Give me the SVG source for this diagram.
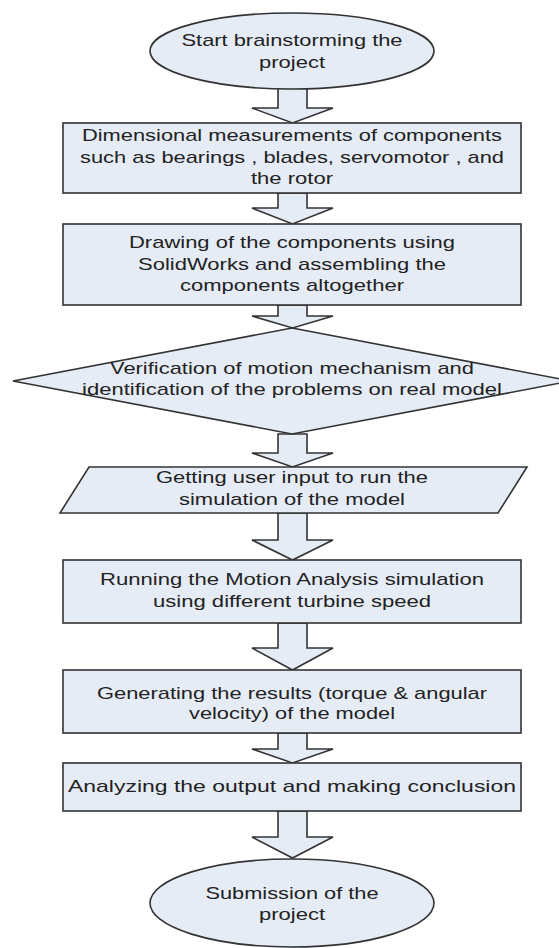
<svg xmlns="http://www.w3.org/2000/svg" width="559" height="948" viewBox="0 0 559 948">
<style>
.shape{fill:#E6ECF6;stroke:#333;stroke-width:1.6}
.arrow{fill:#E6ECF6;stroke:#333;stroke-width:1.6;stroke-linejoin:miter}
text{font-family:"Liberation Sans",Arial,sans-serif;font-size:17px;fill:#222;text-anchor:middle}
</style>
<rect width="559" height="948" fill="#fff"/>
<g id="connectors">
<path class="arrow" d="M278,88 L307,88 L307,108 L333,108 L292.5,123 L252,108 L278,108 Z"/>
<path class="arrow" d="M278,193 L307,193 L307,208 L333,208 L292.5,224 L252,208 L278,208 Z"/>
<path class="arrow" d="M278,305 L307,305 L307,316 L333,316 L292.5,328 L252,316 L278,316 Z"/>
<path class="arrow" d="M278,434 L307,434 L307,453 L333,453 L292.5,467 L252,453 L278,453 Z"/>
<path class="arrow" d="M278,513 L307,513 L307,540 L333,540 L292.5,560 L252,540 L278,540 Z"/>
<path class="arrow" d="M278,623 L307,623 L307,648 L333,648 L292.5,670 L252,648 L278,648 Z"/>
<path class="arrow" d="M278,733 L307,733 L307,749 L333,749 L292.5,763 L252,749 L278,749 Z"/>
<path class="arrow" d="M278,811 L307,811 L307,837 L333,837 L292.5,858 L252,837 L278,837 Z"/>
</g>
<g id="start">
<ellipse class="shape" cx="292" cy="51" rx="142" ry="38"/>
<text x="292" y="46" textLength="221" lengthAdjust="spacingAndGlyphs">Start brainstorming the</text>
<text x="292" y="68" textLength="66" lengthAdjust="spacingAndGlyphs">project</text>
</g>
<g id="measure">
<rect class="shape" x="63" y="123" width="458" height="70"/>
<text x="292" y="141" textLength="420" lengthAdjust="spacingAndGlyphs">Dimensional measurements of components</text>
<text x="292" y="163" textLength="424" lengthAdjust="spacingAndGlyphs">such as bearings , blades, servomotor , and</text>
<text x="292" y="184" textLength="82" lengthAdjust="spacingAndGlyphs">the rotor</text>
</g>
<g id="drawing">
<rect class="shape" x="63" y="224" width="458" height="81"/>
<text x="292" y="248" textLength="326" lengthAdjust="spacingAndGlyphs">Drawing of the components using</text>
<text x="292" y="270" textLength="308" lengthAdjust="spacingAndGlyphs">SolidWorks and assembling the</text>
<text x="292" y="291" textLength="224" lengthAdjust="spacingAndGlyphs">components altogether</text>
</g>
<g id="verify">
<polygon class="shape" points="292,328 571,381 292,434 13,381"/>
<text x="292" y="374" textLength="364" lengthAdjust="spacingAndGlyphs">Verification of motion mechanism and</text>
<text x="292" y="395" textLength="420" lengthAdjust="spacingAndGlyphs">identification of the problems on real model</text>
</g>
<g id="input">
<polygon class="shape" points="89,467 527,467 498,513 60,513"/>
<text x="292" y="483" textLength="272" lengthAdjust="spacingAndGlyphs">Getting user input to run the</text>
<text x="292" y="505" textLength="226" lengthAdjust="spacingAndGlyphs">simulation of the model</text>
</g>
<g id="running">
<rect class="shape" x="63" y="560" width="458" height="63"/>
<text x="292" y="585" textLength="384" lengthAdjust="spacingAndGlyphs">Running the Motion Analysis simulation</text>
<text x="292" y="607" textLength="278" lengthAdjust="spacingAndGlyphs">using different turbine speed</text>
</g>
<g id="generating">
<rect class="shape" x="63" y="670" width="458" height="63"/>
<text x="292" y="699" textLength="390" lengthAdjust="spacingAndGlyphs">Generating the results (torque &amp; angular</text>
<text x="292" y="719" textLength="206" lengthAdjust="spacingAndGlyphs">velocity) of the model</text>
</g>
<g id="analyzing">
<rect class="shape" x="63" y="763" width="458" height="48"/>
<text x="292" y="792" textLength="448" lengthAdjust="spacingAndGlyphs">Analyzing the output and making conclusion</text>
</g>
<g id="submission">
<ellipse class="shape" cx="292" cy="903" rx="142" ry="44"/>
<text x="292" y="899" textLength="173" lengthAdjust="spacingAndGlyphs">Submission of the</text>
<text x="292" y="920" textLength="66" lengthAdjust="spacingAndGlyphs">project</text>
</g>
</svg>
